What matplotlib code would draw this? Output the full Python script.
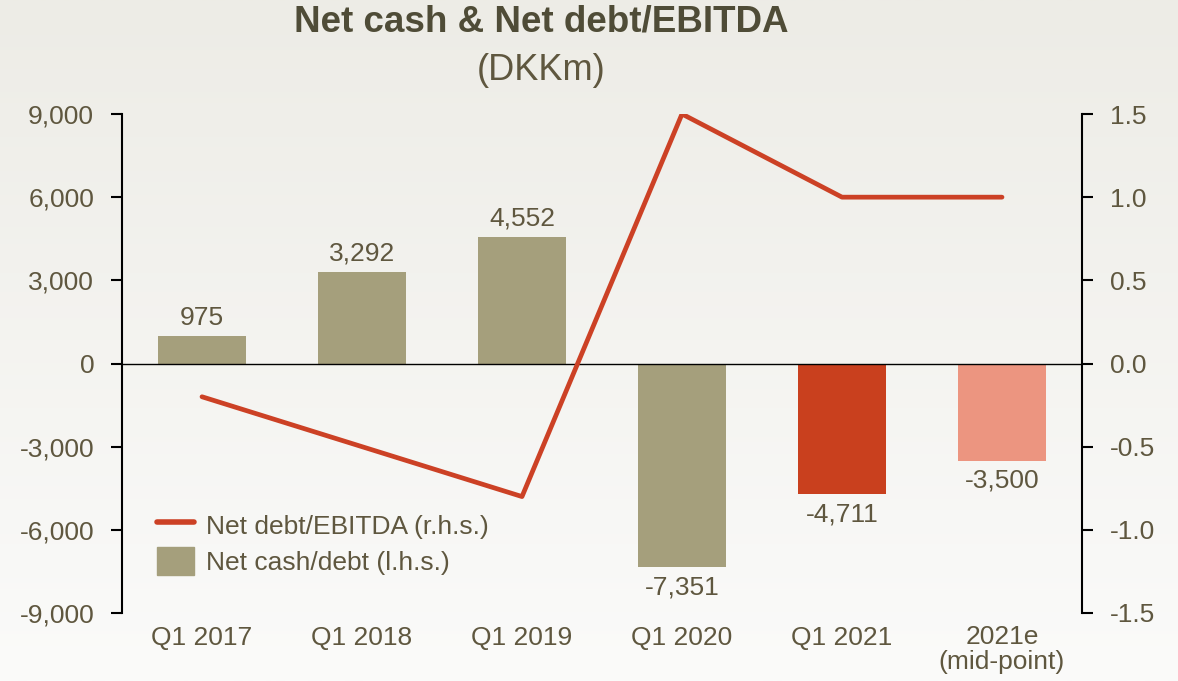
import numpy as np
import matplotlib.pyplot as plt
from matplotlib.colors import LinearSegmentedColormap
from matplotlib.lines import Line2D
from matplotlib.patches import Patch

# Data
categories = ["Q1 2017", "Q1 2018", "Q1 2019", "Q1 2020", "Q1 2021", "2021e\n(mid-point)"]
net_cash = [975, 3292, 4552, -7351, -4711, -3500]
net_debt_ebitda = [-0.2, -0.5, -0.8, 1.5, 1.0, 1.0]
bar_labels = ["975", "3,292", "4,552", "-7,351", "-4,711", "-3,500"]
left_ticks = [-9000, -6000, -3000, 0, 3000, 6000, 9000]
right_ticks = [-1.5, -1.0, -0.5, 0.0, 0.5, 1.0, 1.5]

txt = "#5f573f"
khaki = "#a59f7c"
bar_colors = [khaki, khaki, khaki, khaki, "#c9401e", "#ec9580"]
line_color = "#cc4125"
fs = 19

plt.rcParams["font.family"] = ["Liberation Sans", "DejaVu Sans"]

fig = plt.figure(figsize=(11.78, 6.81), dpi=100)

# fondo con degradado
bg = fig.add_axes([0, 0, 1, 1], zorder=-10)
grad = np.linspace(0, 1, 256).reshape(-1, 1)
cmap = LinearSegmentedColormap.from_list("bg", ["#edece6", "#fbfbfa"])
bg.imshow(grad, aspect="auto", cmap=cmap, extent=[0, 1, 0, 1])
bg.axis("off")

ax = fig.add_axes([122 / 1178, 1 - 613 / 681, 960 / 1178, 499 / 681])
ax.patch.set_alpha(0)
x = np.arange(len(categories))
ax.bar(x, net_cash, width=0.55, color=bar_colors, zorder=2)
ax.axhline(0, color="black", lw=1, zorder=3)
ax.set_xlim(-0.5, 5.5)
ax.set_ylim(-9000, 9000)
ax.set_yticks(left_ticks)
ax.set_yticklabels([f"{v:,}" for v in left_ticks])
ax.set_xticks(x)
ax.set_xticklabels(categories, linespacing=1.0)
ax.tick_params(axis="x", length=0, pad=9, labelsize=fs, labelcolor=txt)
ax.tick_params(axis="y", length=8, width=1.5, pad=12, labelsize=fs, labelcolor=txt)
for s in ["top", "right", "bottom"]:
    ax.spines[s].set_visible(False)
ax.spines["left"].set_linewidth(1.5)

for i, v in enumerate(net_cash):
    if v >= 0:
        ax.text(i, v + 250, bar_labels[i], ha="center", va="bottom", fontsize=fs, color=txt)
    else:
        ax.text(i, v - 300, bar_labels[i], ha="center", va="top", fontsize=fs, color=txt)

ax2 = ax.twinx()
ax2.plot(x, net_debt_ebitda, color=line_color, lw=3.4, zorder=5, solid_capstyle="round")
ax2.set_ylim(-1.5, 1.5)
ax2.set_yticks(right_ticks)
ax2.set_yticklabels([f"{v:.1f}" for v in right_ticks])
ax2.tick_params(axis="y", length=8, width=1.5, pad=12, labelsize=fs, labelcolor=txt)
for s in ["top", "left", "bottom"]:
    ax2.spines[s].set_visible(False)
ax2.spines["right"].set_linewidth(1.5)

# leyenda
handles = [Line2D([0], [0], color=line_color, lw=4, solid_capstyle="round"),
           Patch(color=khaki)]
leg = ax2.legend(handles, ["Net debt/EBITDA (r.h.s.)", "Net cash/debt (l.h.s.)"],
                 loc="lower left", bbox_to_anchor=(0.02, 0.045), frameon=False,
                 fontsize=fs, labelcolor=txt, handlelength=1.4, handleheight=1.25,
                 handletextpad=0.45, labelspacing=0.3, borderaxespad=0.2)

fig.text(541 / 1178, 1 - 22 / 681, "Net cash & Net debt/EBITDA", ha="center", va="center",
         fontsize=26.5, fontweight="bold", color="#4f4c37")
fig.text(541 / 1178, 1 - 70 / 681, "(DKKm)", ha="center", va="center",
         fontsize=26, color=txt)

fig.savefig("out.png", dpi=100, facecolor=fig.get_facecolor())
